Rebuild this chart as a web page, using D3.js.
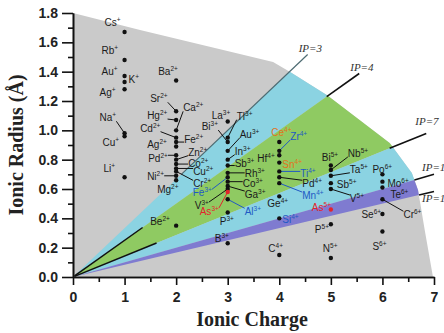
<!DOCTYPE html>
<html>
<head>
<meta charset="utf-8">
<script src="https://cdn.jsdelivr.net/npm/d3@7"></script>
<style>
  body { margin: 0; background: #fff; }
  .tick text { font-family: "Liberation Sans", Arial, sans-serif; font-weight: bold; font-size: 14px; fill: #222; }
  .ion { font-family: "Liberation Sans", Arial, sans-serif; font-size: 10px; }
  .ip { font-family: "Liberation Serif", "Times New Roman", serif; font-style: italic; font-size: 11px; fill: #333; }
</style>
</head>
<body>
<svg id="chart" width="444" height="333"></svg>
<script>
// axis ticks
const chargeTicks = [0, 1, 2, 3, 4, 5, 6, 7];
const chargeMinor = [0.5, 1.5, 2.5, 3.5, 4.5, 5.5, 6.5];
const radiusTicks = [0, 0.2, 0.4, 0.6, 0.8, 1.0, 1.2, 1.4, 1.6, 1.8];
const radiusMinor = [0.1, 0.3, 0.5, 0.7, 0.9, 1.1, 1.3, 1.5, 1.7];

// outer edge of the shaded area [charge, radius]
const envelope = [[0, 1.80], [1.30, 1.684], [3.88, 1.466], [4.21, 1.398], [4.92, 1.241],
  [6.14, 0.914], [6.57, 0.709], [6.69, 0.593], [6.82, 0.32], [6.98, 0]];

// ionic potential bands (IP = Z / r)
const bands = [[3, 4], [4, 7], [7, 10], [10, 12]];
const bandColors = ["#8bd3e2", "#8fca62", "#8bd3e2", "#7f7bd0"];

// IP lines: [IP, from charge, to charge]
const ipLines = [[3, 2.1, 4.55], [4, 4.92, 5.55], [7, 6.14, 6.85], [10, 6.62, 7.0], [12, 6.71, 7.0]];
const ipLabelOffsets = [[-9, -3], [-9, -3], [-11, -8], [-12, -3], [-12, 11]];
const ipStubs = [[4, 0.03, 1.35], [7, 0.03, 1.62]];

// ions: [symbol, charge, radius]
const ions = [
  ["Cs", 1, 1.67], ["Rb", 1, 1.48], ["Au", 1, 1.37], ["K", 1, 1.33], ["Ag", 1, 1.28],
  ["Na", 1, 0.98], ["Cu", 1, 0.96], ["Li", 1, 0.68],
  ["Ba", 2, 1.34], ["Sr", 2, 1.13], ["Hg", 2, 1.07], ["Ca", 2, 1.00], ["Cd", 2, 0.95],
  ["Fe", 2, 0.92], ["Ag", 2, 0.89], ["Pd", 2, 0.83], ["Zn", 2, 0.80], ["Co", 2, 0.77],
  ["Cu", 2, 0.74], ["Cr", 2, 0.72], ["Ni", 2, 0.69], ["Mg", 2, 0.66], ["Be", 2, 0.35],
  ["La", 3, 1.06], ["Tl", 3, 0.95], ["Bi", 3, 0.92], ["Au", 3, 0.86], ["In", 3, 0.80],
  ["Sb", 3, 0.76], ["Rh", 3, 0.71], ["Fe", 3, 0.68], ["Co", 3, 0.65], ["Ga", 3, 0.62],
  ["V", 3, 0.60], ["As", 3, 0.58], ["Al", 3, 0.53], ["P", 3, 0.44], ["B", 3, 0.23],
  ["Ce", 4, 0.92], ["Zr", 4, 0.86], ["Hf", 4, 0.83], ["Sn", 4, 0.78], ["Ti", 4, 0.72],
  ["Pd", 4, 0.68], ["Mn", 4, 0.64], ["Ge", 4, 0.55], ["Si", 4, 0.40], ["C", 4, 0.15],
  ["Bi", 5, 0.76], ["Nb", 5, 0.73], ["Ta", 5, 0.69], ["Sb", 5, 0.64], ["V", 5, 0.60],
  ["As", 5, 0.46], ["P", 5, 0.36], ["N", 5, 0.13],
  ["Po", 6, 0.70], ["Mo", 6, 0.65], ["Te", 6, 0.61], ["Cr", 6, 0.53], ["Se", 6, 0.43], ["S", 6, 0.31]
];

// label layout: pixel offset of label baseline start from the dot, leader flag
const labelOffsets = [
  [-20, -6, 0], [-23, -6, 0], [-23, -1, 0], [4, 1, 0], [-25, 7, 0],
  [-25, -12, 1], [-22, 10, 0], [-21, -5, 0],
  [-18, -5, 0], [-26, -9, 1], [-29, -1, 1], [7, -19, 1], [-36, -6, 1],
  [8, 1, 1], [-29, 2, 0], [-28, 7, 1], [12, -4, 1], [12, 3, 1],
  [17, 7, 1], [17, 16, 1], [-29, 4, 1], [-19, 13, 0], [-26, -1, 0],
  [-16, -3, 0], [9, -18, 1], [-26, -12, 1], [12, -13, 1], [7, -5, 1],
  [7, 1, 1], [17, 4, 1], [-35, 19, 1], [15, 5, 1], [17, 12, 1],
  [-33, 20, 1], [-28, 23, 1], [17, 16, 1], [-8, 13, 0], [-13, -1, 0],
  [-8, -6, 0], [11, -11, 1], [-22, 7, 0], [3, 5, 0], [21, 6, 1],
  [23, 10, 1], [23, 16, 1], [-12, 11, 0], [3, 5, 0], [-11, -3, 0],
  [-9, -5, 0], [17, -13, 1], [19, -3, 1], [6, 5, 0], [19, 13, 1],
  [-19, 1, 0], [-16, 9, 0], [-8, -6, 0],
  [-10, -1, 0], [5, 5, 0], [8, 10, 0], [21, 19, 1], [-21, 4, 0], [-10, 18, 0]
];
const blueIons = ["Fe3", "Al3", "Zr4", "Ti4", "Mn4", "Si4"];
const orangeIons = ["Ce4", "Sn4"];
const redIons = ["As3", "As5"];

const svg = d3.select("#chart");
const x = d3.scaleLinear().domain([0, 7]).range([73, 434]);
const y = d3.scaleLinear().domain([0, 1.8]).range([277, 13]);
const line = d3.line().x(d => x(d[0])).y(d => y(d[1]));

// where r = z / ip crosses the envelope
function ipCut(ip) {
  for (let i = 0; i < envelope.length - 1; i++) {
    const [z1, r1] = envelope[i], [z2, r2] = envelope[i + 1];
    const f1 = z1 - ip * r1, f2 = z2 - ip * r2;
    if (f1 <= 0 && f2 >= 0) {
      const t = -f1 / (f2 - f1);
      return { i: i, p: [z1 + t * (z2 - z1), r1 + t * (r2 - r1)] };
    }
  }
}
function wedge(ipA, ipB) {
  const a = ipCut(ipA), b = ipCut(ipB);
  const pts = [[0, 0], a.p];
  for (let i = a.i + 1; i <= b.i; i++) pts.push(envelope[i]);
  pts.push(b.p);
  return pts;
}

svg.append("path")
  .attr("d", line([[0, 0]].concat(envelope)) + "Z")
  .attr("fill", "#cacaca");

svg.selectAll(".band")
  .data(bands)
  .enter().append("path")
  .attr("class", "band")
  .attr("d", d => line(wedge(d[0], d[1])) + "Z")
  .attr("fill", (d, i) => bandColors[i]);

// IP lines and labels
svg.selectAll(".ipline")
  .data(ipLines)
  .enter().append("path")
  .attr("class", "ipline")
  .attr("d", d => line([[d[1], d[1] / d[0]], [d[2], d[2] / d[0]]]))
  .attr("stroke", d => d[0] === 3 ? "#4d6b72" : "#111")
  .attr("stroke-width", d => d[0] === 3 ? 1.2 : 1.6)
  .attr("fill", "none");

svg.selectAll(".ipstub")
  .data(ipStubs)
  .enter().append("path")
  .attr("class", "ipstub")
  .attr("d", d => line([[d[1], d[1] / d[0]], [d[2], d[2] / d[0]]]))
  .attr("stroke", "#111")
  .attr("stroke-width", 1.5);

svg.selectAll(".ip")
  .data(ipLines)
  .enter().append("text")
  .attr("class", "ip")
  .attr("x", (d, i) => x(d[2]) + ipLabelOffsets[i][0])
  .attr("y", (d, i) => y(d[2] / d[0]) + ipLabelOffsets[i][1])
  .text(d => "IP=" + d[0]);

// axes
svg.append("g")
  .attr("transform", "translate(73,0)")
  .call(d3.axisLeft(y).tickValues(radiusTicks).tickFormat(d3.format(".1f")).tickSize(11).tickSizeOuter(0).tickPadding(4));
svg.append("g")
  .attr("transform", "translate(73,0)")
  .call(d3.axisLeft(y).tickValues(radiusMinor).tickFormat("").tickSize(5).tickSizeOuter(0));
svg.append("g")
  .attr("transform", "translate(0,277)")
  .call(d3.axisBottom(x).tickValues(chargeTicks).tickFormat(d3.format("d")).tickSize(8).tickSizeOuter(0).tickPadding(7));
svg.append("g")
  .attr("transform", "translate(0,277)")
  .call(d3.axisBottom(x).tickValues(chargeMinor).tickFormat("").tickSize(5).tickSizeOuter(0));
svg.selectAll(".domain, .tick line").attr("stroke", "#111").attr("stroke-width", 1.6);

svg.append("text")
  .attr("x", 252).attr("y", 326)
  .attr("text-anchor", "middle")
  .style("font-family", "'Liberation Serif', 'Times New Roman', serif")
  .style("font-weight", "bold").style("font-size", "20px").attr("fill", "#222")
  .text("Ionic Charge");
svg.append("text")
  .attr("transform", "translate(23,145) rotate(-90)")
  .attr("text-anchor", "middle")
  .style("font-family", "'Liberation Serif', 'Times New Roman', serif")
  .style("font-weight", "bold").style("font-size", "20px").attr("fill", "#222")
  .text("Ionic Radius (Å)");

// ions
const ionColor = d => {
  const key = d[0] + d[1];
  if (blueIons.includes(key)) return "#2159c4";
  if (orangeIons.includes(key)) return "#e0731e";
  if (redIons.includes(key)) return "#e3242b";
  return "#1b1b1b";
};

const labels = svg.append("g");
ions.forEach((d, i) => {
  const px = x(d[1]), py = y(d[2]);
  const off = labelOffsets[i];
  const t = labels.append("text")
    .attr("class", "ion")
    .attr("x", px + off[0]).attr("y", py + off[1])
    .attr("fill", ionColor(d));
  t.append("tspan").text(d[0]);
  t.append("tspan").attr("dy", -4).style("font-size", "6.5px").text(d[1] === 1 ? "+" : d[1] + "+");
  if (off[2]) {
    const b = t.node().getBBox();
    const cx = Math.max(b.x, Math.min(px, b.x + b.width));
    const cy = Math.max(b.y + 3, Math.min(py, b.y + b.height - 2));
    labels.append("line")
      .attr("x1", cx).attr("y1", cy).attr("x2", px).attr("y2", py)
      .attr("stroke", ionColor(d) === "#1b1b1b" ? "#111" : ionColor(d))
      .attr("stroke-width", 1);
  }
});

svg.selectAll(".dot")
  .data(ions)
  .enter().append("circle")
  .attr("class", "dot")
  .attr("cx", d => x(d[1]))
  .attr("cy", d => y(d[2]))
  .attr("r", 2.2)
  .attr("fill", d => redIons.includes(d[0] + d[1]) ? "#e3242b" : "#111");
</script>
</body>
</html>
